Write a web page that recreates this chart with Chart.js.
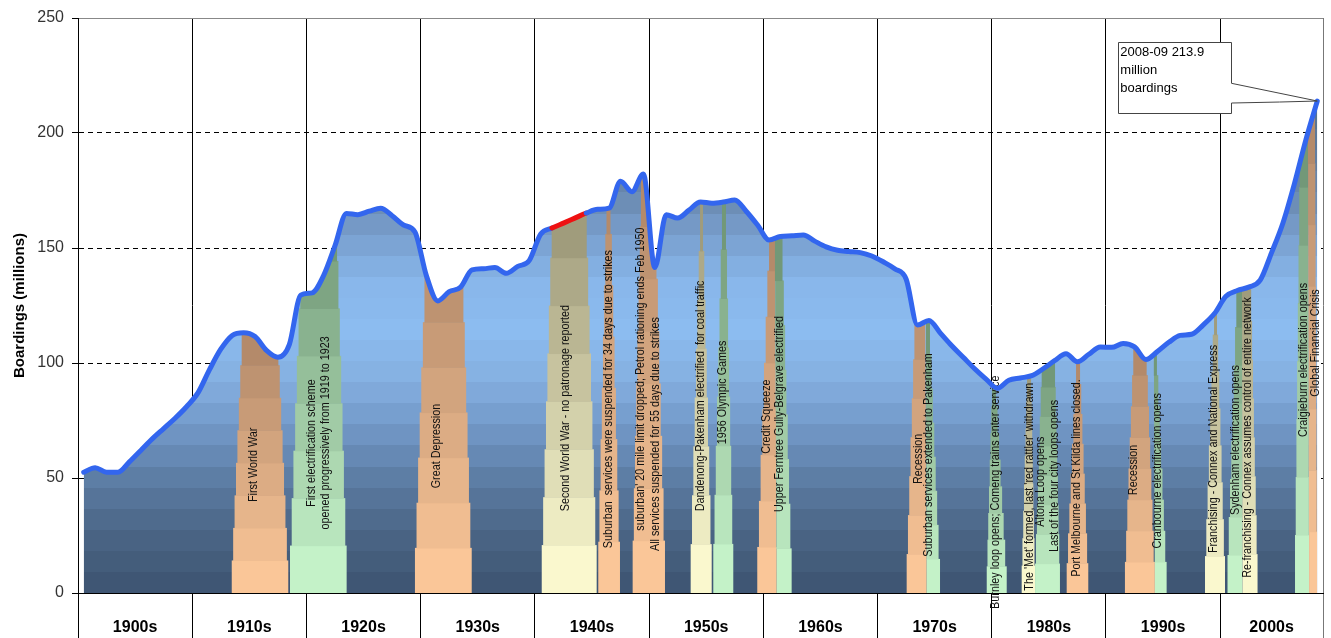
<!DOCTYPE html>
<html>
<head>
<meta charset="utf-8">
<title>Melbourne suburban rail boardings</title>
<script src="https://cdn.jsdelivr.net/npm/chart.js@4.4.1/dist/chart.umd.min.js"></script>
<style>
  html, body { margin: 0; padding: 0; background: #ffffff; }
  #wrap { width: 1331px; height: 638px; }
</style>
</head>
<body>
<div id="wrap"><canvas id="chart" width="1331" height="638"></canvas></div>
<script>
// Financial years (year in which each July-June year starts)
const years = [];
for (let y = 1900; y <= 2008; y++) years.push(y);

// Annual boardings, millions
const boardings = [
  52.5, 54.5, 52.5, 52.5, 57, 62, 67, 71.5, 76, 81,
  87, 97, 106, 112, 113.2, 111.5, 105.5, 102.5, 108, 129.5,
  130.5, 138, 151, 165, 164.5, 166, 167.3, 164, 160, 157,
  138, 127, 131, 133, 140.5, 141, 141.5, 139, 142, 144.5,
  156, 158.7, 160.8, 163, 165.2, 166.8, 167.3, 179, 174.5, 182.2,
  141.5, 164.5, 163, 166.5, 170, 169.5, 170, 170.9, 166, 160,
  153.5, 155, 155.3, 155.7, 153, 150.5, 149, 148.5, 148, 146.5,
  144, 141, 136.5, 116.5, 118.5, 113, 107.5, 102.5, 97.5, 93,
  89, 92.5, 93.5, 94.5, 97.5, 101, 104, 100.5, 103.8, 107,
  106.8, 108.5, 107, 101.5, 105, 109, 112, 112.5, 116.5, 121.5,
  129, 131.5, 133, 136, 148, 161, 178, 197, 213.9
];

// Years with no patronage reported (estimated segment)
const unreportedFrom = 1941;
const unreportedTo = 1944;

const decadeLabels = ['1900s', '1910s', '1920s', '1930s', '1940s', '1950s', '1960s', '1970s', '1980s', '1990s', '2000s'];
const decadeStarts = [1900, 1910, 1920, 1930, 1940, 1950, 1960, 1970, 1980, 1990, 2000];
const axisEndYear = 2009;
const boardingTicks = [0, 50, 100, 150, 200, 250];

// Event periods: kind, from, to (years at base), narrowing to topFrom..topTo
const eventBands = [
  ['decline', 1913.46, 1918.41, 1914.33, 1917.54],
  ['works',   1918.56, 1923.52, 1919.61, 1922.68],
  ['decline', 1929.50, 1934.47, 1930.47, 1933.62],
  ['other',   1940.60, 1945.41, 1941.47, 1944.54],
  ['decline', 1945.55, 1947.45, 1946.27, 1946.62],
  ['decline', 1948.56, 1951.39, 1949.29, 1950.52],
  ['other',   1953.64, 1955.48, 1954.46, 1954.72],
  ['works',   1955.62, 1957.37, 1956.38, 1956.73],
  ['decline', 1959.47, 1961.17, 1960.50, 1961.02],
  ['works',   1961.17, 1962.48, 1961.02, 1961.68],
  ['decline', 1972.55, 1974.30, 1973.34, 1974.16],
  ['works',   1974.30, 1975.47, 1974.24, 1974.59],
  ['works',   1979.56, 1981.31, 1980.02, 1980.37],
  ['other',   1982.62, 1983.79, 1983.09, 1983.44],
  ['works',   1983.79, 1985.97, 1984.37, 1985.54],
  ['decline', 1986.56, 1988.45, 1987.38, 1987.73],
  ['decline', 1991.66, 1994.28, 1992.39, 1993.56],
  ['works',   1994.28, 1995.31, 1994.19, 1994.46],
  ['other',   1998.67, 2000.42, 1999.46, 1999.72],
  ['works',   2000.64, 2001.95, 2001.41, 2001.95],
  ['other',   2001.95, 2003.27, 2001.91, 2002.71],
  ['works',   2006.55, 2007.78, 2006.98, 2007.68],
  ['decline', 2007.78, 2008.48, 2007.68, 2008.30]
];

// Event notes: text, year, boardings level at the middle of the text
const eventNotes = [
  ['First World War', 1915.35, 55.7],
  ['First electrification scheme', 1920.46, 65.2],
  ['opened progressively from 1919 to 1923', 1921.63, 69.6],
  ['Great Depression', 1931.34, 63.9],
  ['Second World War - no patronage reported', 1942.64, 80.4],
  ['Suburban  services were suspended for 34 days due to strikes', 1946.43, 84.3],
  ["suburban' 20 mile limit dropped; Petrol rationing ends Feb 1950", 1949.20, 93.0],
  ['All services suspended for 55 days due to strikes', 1950.51, 69.1],
  ['Dandenong-Pakenham electrified  for coal traffic', 1954.45, 85.7],
  ['1956 Olympic Games', 1956.41, 87.2],
  ['Credit Squeeze', 1960.29, 76.7],
  ['Upper Ferntree Gully-Belgrave electrified', 1961.42, 77.8],
  ['Recession', 1973.57, 58.3],
  ['Suburban services extended to Pakenham', 1974.44, 60.0],
  ['Burnley loop opens; Comeng trains enter service', 1980.34, 43.8],
  ["The 'Met' formed, last 'red rattler' withdrawn", 1983.26, 46.2],
  ['Altona Loop opens', 1984.29, 48.4],
  ['Last of the four city loops opens', 1985.45, 50.9],
  ['Port Melbourne and St Kilda lines closed.', 1987.44, 50.0],
  ['Recession', 1992.39, 53.5],
  ['Cranbourne electrification opens', 1994.47, 53.1],
  ['Franchising - Connex and National Express', 1999.40, 62.6],
  ['Sydenham electrification opens', 2001.29, 66.5],
  ['Re-franchising - Connex assumes control of entire network', 2002.35, 67.6],
  ['Craigieburn electrification opens', 2007.28, 101.3],
  ['Global Financial Crisis', 2008.34, 108.7]
];

// Callout for the latest year
const latestLabel = ['2008-09 ' + boardings[boardings.length - 1], 'million', 'boardings'];

// ---------- styling ----------
const LINE_BLUE = 'rgb(51,102,238)';
const UNREPORTED_RED = '#ee1111';
const bandColours = {
  decline: { base: [250, 198, 152], top: [180, 138, 106] },
  works:   { base: [196, 242, 200], top: [114, 152, 120] },
  other:   { base: [250, 248, 206], top: [160, 156, 124] }
};
// Area shading by boardings level
const areaStops = [
  [0, '#3c5370'], [27, '#4b6686'], [49, '#5c7ca3'], [71, '#7197c6'],
  [92, '#84afe0'], [114, '#8cbcf0'], [136, '#88b6ea'], [153, '#7ba2d2'],
  [171, '#6c8cb4'], [192, '#5f7a9c'], [214, '#55708e']
];

function hexRgb(h) {
  return [parseInt(h.slice(1, 3), 16), parseInt(h.slice(3, 5), 16), parseInt(h.slice(5, 7), 16)];
}
function mix(a, b, t) {
  return [0, 1, 2].map(k => Math.round(a[k] + (b[k] - a[k]) * t));
}
function rgb(c) { return 'rgb(' + c.join(',') + ')'; }

function shadeAt(v) {
  if (v <= areaStops[0][0]) return hexRgb(areaStops[0][1]);
  for (let i = 1; i < areaStops.length; i++) {
    if (v <= areaStops[i][0]) {
      const [v0, c0] = areaStops[i - 1], [v1, c1] = areaStops[i];
      return mix(hexRgb(c0), hexRgb(c1), (v - v0) / (v1 - v0));
    }
  }
  return hexRgb(areaStops[areaStops.length - 1][1]);
}

function areaGradient(context) {
  const chart = context.chart;
  const { ctx, chartArea, scales } = chart;
  if (!chartArea || !scales.y) return 'rgba(0,0,0,0)';
  const y = scales.y;
  const vTop = 220, steps = 24;
  const g = ctx.createLinearGradient(0, y.getPixelForValue(0), 0, y.getPixelForValue(vTop));
  for (let s = 0; s < steps; s++) {
    const c = rgb(shadeAt(vTop * (s + 0.5) / steps));
    g.addColorStop(s / steps, c);
    g.addColorStop(Math.min(1, (s + 1) / steps - 0.0001), c);
  }
  return g;
}

const points = boardings.map((v, i) => ({ x: years[i] + 0.5, y: v }));

function levelAt(xv) {
  if (xv <= points[0].x) return points[0].y;
  for (let i = 1; i < points.length; i++) {
    if (xv <= points[i].x) {
      const a = points[i - 1], b = points[i];
      return a.y + (b.y - a.y) * (xv - a.x) / (b.x - a.x);
    }
  }
  return points[points.length - 1].y;
}

// Event bands, drawn over the shaded area and under the line
const eventPlugin = {
  id: 'eventBands',
  afterDatasetDraw(chart, args) {
    if (args.index !== 1) return;
    const { ctx, scales: { x, y } } = chart;
    const meta = args.meta;
    const pts = meta.data;
    const base = y.getPixelForValue(0);
    ctx.save();
    ctx.beginPath();
    let ok = false;
    try { meta.dataset.path(ctx); ok = true; } catch (e) { ok = false; }
    if (!ok) {
      ctx.beginPath();
      pts.forEach((p, i) => i ? ctx.lineTo(p.x, p.y) : ctx.moveTo(p.x, p.y));
    }
    ctx.lineTo(pts[pts.length - 1].x, base);
    ctx.lineTo(pts[0].x, base);
    ctx.closePath();
    ctx.clip();

    const nSteps = 8;
    for (const [kind, from, to, topFrom, topTo] of eventBands) {
      let peak = Math.max(levelAt(from), levelAt(to));
      for (const p of points) if (p.x >= from && p.x <= to) peak = Math.max(peak, p.y);
      const col = bandColours[kind];
      for (let k = 0; k < nSteps; k++) {
        const f = k / (nSteps - 1);
        const lo = peak * k / nSteps;
        const hi = k === nSteps - 1 ? 260 : peak * (k + 1) / nSteps;
        const xl = x.getPixelForValue(from + (topFrom - from) * f);
        const xr = x.getPixelForValue(to + (topTo - to) * f);
        const yb = y.getPixelForValue(lo);
        const yt = y.getPixelForValue(hi);
        ctx.fillStyle = rgb(mix(col.base, col.top, f));
        ctx.fillRect(xl, yt, xr - xl, yb - yt + (k === 0 ? 0 : 0.6));
      }
    }
    ctx.restore();

    // vertical event notes
    ctx.save();
    ctx.fillStyle = '#111';
    ctx.font = '13px "Liberation Sans", Arial, sans-serif';
    ctx.textAlign = 'center';
    ctx.textBaseline = 'middle';
    for (const [text, yr, lvl] of eventNotes) {
      ctx.save();
      ctx.translate(x.getPixelForValue(yr), y.getPixelForValue(lvl));
      ctx.rotate(-Math.PI / 2);
      ctx.scale(0.83, 1);
      ctx.fillText(text, 0, 0);
      ctx.restore();
    }
    ctx.restore();
  }
};

// Callout box pointing at the latest value
const calloutPlugin = {
  id: 'latestCallout',
  afterDatasetsDraw(chart) {
    const { ctx, scales: { x, y } } = chart;
    const meta = chart.getDatasetMeta(0);
    const tip = meta.data[meta.data.length - 1];
    const left = x.getPixelForValue(1991.08), right = x.getPixelForValue(2000.95);
    const top = y.getPixelForValue(239.6), bottom = y.getPixelForValue(208.6);
    const wedgeTop = y.getPixelForValue(221.6);
    const wedgeBot = tip.y + 2;
    ctx.save();
    ctx.beginPath();
    ctx.moveTo(Math.round(left) + 0.5, Math.round(top) + 0.5);
    ctx.lineTo(Math.round(right) + 0.5, Math.round(top) + 0.5);
    ctx.lineTo(Math.round(right) + 0.5, wedgeTop);
    ctx.lineTo(tip.x, tip.y);
    ctx.lineTo(x.getPixelForValue(2005.2), tip.y + 1);
    ctx.lineTo(Math.round(right) + 0.5, wedgeBot);
    ctx.lineTo(Math.round(right) + 0.5, Math.round(bottom) + 0.5);
    ctx.lineTo(Math.round(left) + 0.5, Math.round(bottom) + 0.5);
    ctx.closePath();
    ctx.fillStyle = '#ffffff';
    ctx.fill();
    ctx.strokeStyle = '#444';
    ctx.lineWidth = 1;
    ctx.stroke();
    ctx.fillStyle = '#000';
    ctx.font = '13px "Liberation Sans", Arial, sans-serif';
    ctx.textAlign = 'left';
    ctx.textBaseline = 'middle';
    latestLabel.forEach((t, i) => ctx.fillText(t, left + 2, top + 10.5 + i * 18));
    ctx.restore();
  }
};

const midpoints = decadeStarts.map((s, i) => (s + (i + 1 < decadeStarts.length ? decadeStarts[i + 1] : axisEndYear)) / 2);

new Chart(document.getElementById('chart'), {
  type: 'line',
  data: {
    datasets: [
      {
        label: 'Boardings',
        data: points,
        order: 1,
        borderColor: LINE_BLUE,
        borderWidth: 5,
        borderJoinStyle: 'round',
        borderCapStyle: 'round',
        pointRadius: 0,
        fill: false,
        cubicInterpolationMode: 'monotone',
        segment: {
          borderColor: c => {
            const a = years[c.p0DataIndex], b = years[c.p1DataIndex];
            return (a >= unreportedFrom && b <= unreportedTo) ? UNREPORTED_RED : undefined;
          }
        }
      },
      {
        label: 'Boardings area',
        data: points,
        order: 2,
        borderWidth: 0,
        borderColor: 'rgba(0,0,0,0)',
        pointRadius: 0,
        fill: 'origin',
        backgroundColor: areaGradient,
        cubicInterpolationMode: 'monotone'
      }
    ]
  },
  options: {
    responsive: false,
    animation: false,
    devicePixelRatio: 1,
    layout: { padding: { left: 0, right: 8, top: 18, bottom: 0 } },
    plugins: { legend: { display: false }, tooltip: { enabled: false } },
    scales: {
      x: {
        type: 'linear',
        min: decadeStarts[0],
        max: axisEndYear,
        afterBuildTicks: s => {
          const vals = [];
          decadeStarts.forEach((d, i) => { vals.push(d); vals.push(midpoints[i]); });
          vals.push(axisEndYear);
          s.ticks = vals.map(v => ({ value: v }));
        },
        afterFit: s => { s.height = 45; },
        grid: {
          color: c => {
            const v = c.tick ? c.tick.value : null;
            if (midpoints.includes(v)) return 'rgba(0,0,0,0)';
            if (v === axisEndYear) return '#777';
            return '#000';
          },
          lineWidth: 1,
          tickLength: 45,
          drawTicks: true
        },
        border: { display: true, color: '#000', width: 1 },
        ticks: {
          autoSkip: false,
          maxRotation: 0,
          minRotation: 0,
          padding: -20,
          color: '#000',
          font: { family: '"Liberation Sans", Arial, sans-serif', size: 16, weight: 'bold' },
          callback: v => {
            const i = midpoints.indexOf(v);
            return i >= 0 ? decadeLabels[i] : '';
          }
        }
      },
      y: {
        min: 0,
        max: 250,
        afterBuildTicks: s => { s.ticks = boardingTicks.map(v => ({ value: v })); },
        afterFit: s => { s.width = 78; },
        grid: {
          color: c => {
            const v = c.tick ? c.tick.value : null;
            if (v === 250) return '#888';
            return '#000';
          },
          tickColor: '#000',
          tickLength: 6,
          lineWidth: 1
        },
        border: {
          display: true,
          color: '#000',
          width: 1,
          dash: c => {
            const v = c.tick ? c.tick.value : null;
            return (v === 250 || v === 0) ? [] : [5, 4];
          }
        },
        ticks: {
          padding: 8,
          color: '#333',
          font: { family: '"Liberation Sans", Arial, sans-serif', size: 16 }
        },
        title: {
          display: true,
          text: 'Boardings (millions)',
          color: '#000',
          padding: { top: 11, bottom: 0 },
          font: { family: '"Liberation Sans", Arial, sans-serif', size: 15, weight: 'bold' }
        }
      }
    }
  },
  plugins: [eventPlugin, calloutPlugin]
});
</script>
</body>
</html>
